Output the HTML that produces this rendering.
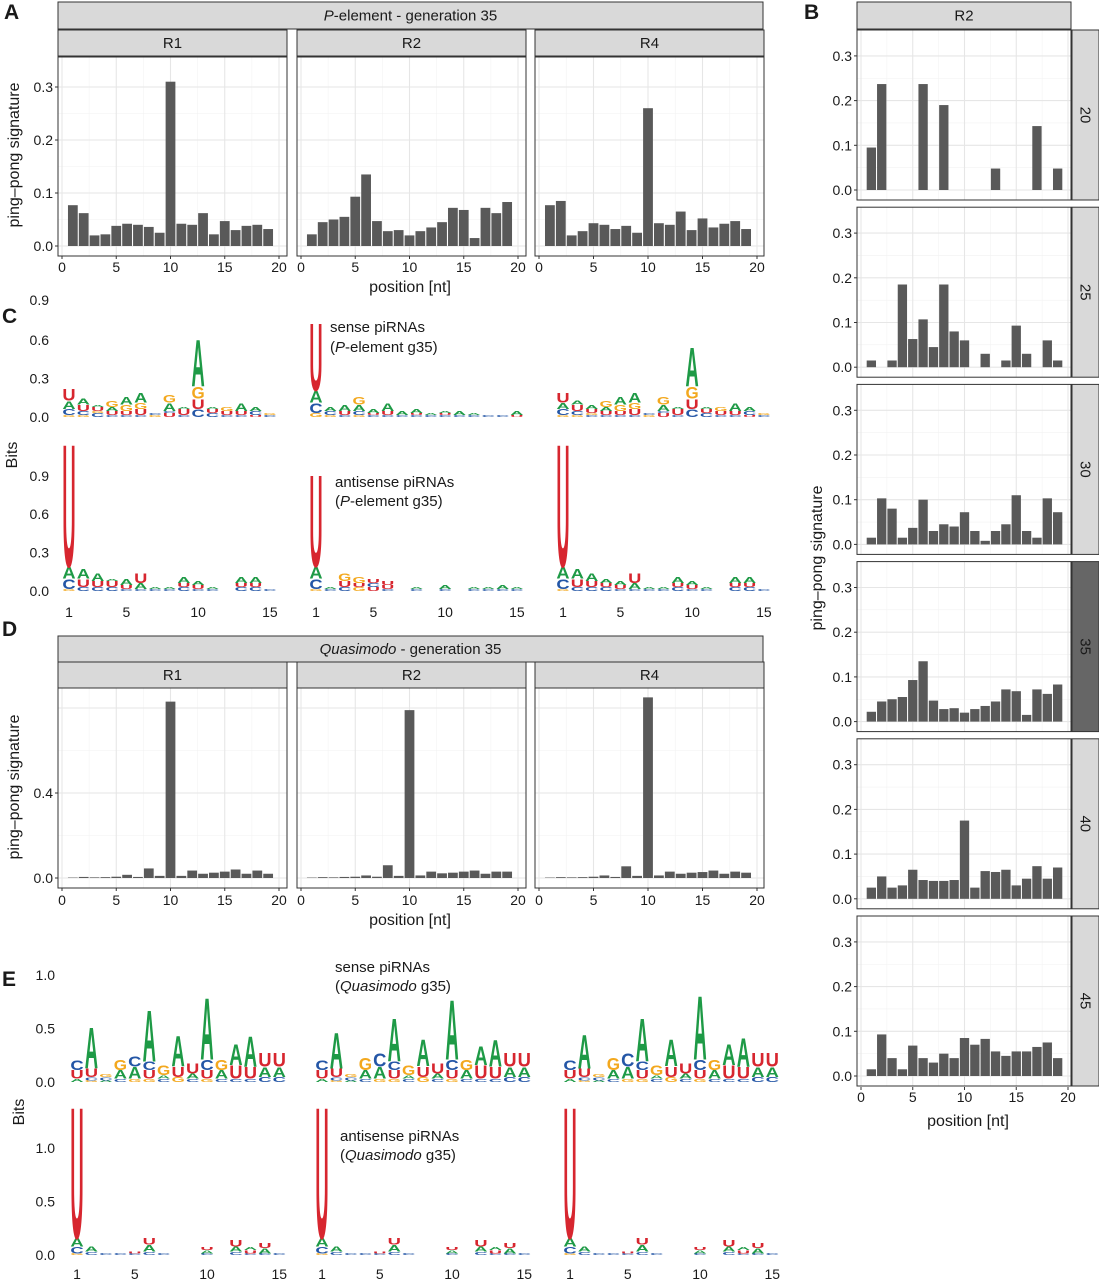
<!DOCTYPE html>
<html><head><meta charset="utf-8"><style>
body{margin:0;background:#fff}
svg text{font-family:"Liberation Sans",sans-serif}
</style></head><body>
<svg id="fig" width="1099" height="1280" viewBox="0 0 1099 1280" xmlns="http://www.w3.org/2000/svg"></svg>
<script>
// ---------- data ----------
const positions=[1,2,3,4,5,6,7,8,9,10,11,12,13,14,15,16,17,18,19];
const pR1=[0.077,0.062,0.020,0.022,0.038,0.042,0.040,0.036,0.025,0.31,0.042,0.040,0.062,0.022,0.047,0.030,0.038,0.040,0.032];
const pR2=[0.022,0.045,0.050,0.055,0.093,0.135,0.047,0.028,0.030,0.020,0.028,0.035,0.045,0.072,0.068,0.015,0.072,0.062,0.083];
const pR4=[0.077,0.085,0.020,0.028,0.043,0.040,0.032,0.038,0.025,0.260,0.043,0.040,0.065,0.030,0.052,0.035,0.042,0.047,0.032];
const g20=[0.095,0.237,0,0,0,0.237,0,0.19,0,0,0,0,0.048,0,0,0,0.143,0,0.048];
const g25=[0.015,0,0.015,0.185,0.063,0.107,0.045,0.185,0.08,0.06,0,0.03,0,0.015,0.093,0.03,0,0.06,0.015];
const g30=[0.015,0.103,0.08,0.015,0.037,0.1,0.03,0.045,0.04,0.072,0.03,0.008,0.03,0.045,0.11,0.03,0.015,0.103,0.072];
const g35=pR2;
const g40=[0.025,0.05,0.025,0.03,0.065,0.042,0.04,0.04,0.042,0.175,0.025,0.062,0.06,0.065,0.03,0.045,0.073,0.045,0.07];
const g45=[0.015,0.093,0.04,0.015,0.068,0.04,0.03,0.05,0.04,0.085,0.07,0.083,0.055,0.045,0.055,0.055,0.065,0.075,0.04];
const generations=["20","25","30","35","40","45"];
const qR1=[0.002,0.005,0.003,0.004,0.006,0.015,0.005,0.045,0.01,0.83,0.01,0.035,0.02,0.025,0.03,0.04,0.02,0.035,0.02];
const qR2=[0.002,0.004,0.003,0.005,0.006,0.012,0.006,0.06,0.01,0.79,0.012,0.03,0.022,0.025,0.03,0.035,0.02,0.03,0.03];
const qR4=[0.002,0.004,0.003,0.004,0.006,0.012,0.005,0.055,0.01,0.85,0.012,0.03,0.02,0.025,0.028,0.035,0.02,0.03,0.025];
// logos: columns bottom->top "Letter:height"
const logoPS1="G.01C.03A.04U.06|G.01C.02U.03A.03|C.02G.01U.02A.01|C.01U.02A.02G.03|C.01U.02G.03A.04|C.01U.03G.03A.05|G.01C.01|U.02C.01A.04G.04|C.01U.03A.01|C.04U.05G.06A.38|C.02U.02A.01|C.01U.02G.02|C.01U.02A.04|U.01C.02A.02|C.01G.01";
const logoPS2="G.02C.05A.06U.55|G.01C.02A.02|C.01U.02A.03|G.01C.02A.03G.04|C.01U.01A.02|C.01U.02A.04|C.01A.02|C.01U.01A.02|C.01A.01|C.01U.01A.01|C.01A.02|C.01A.01|C.01|C.01|U.01A.02";
const logoPS3="G.01C.03A.03U.05|G.01C.02U.03A.02|C.01G.01U.02A.02|C.01U.02A.02G.03|C.01U.02G.03A.04|C.01U.03G.03A.05|G.01C.01|U.02C.01A.03G.04|C.01U.03A.01|C.04U.05G.06A.32|C.02U.02A.01|C.01U.02G.02|C.01U.02A.04|U.01C.02A.02|C.01G.01";
const logoPA1="G.01C.05A.06U1.0|C.02U.04A.05|C.02U.03A.04|C.02U.03A.01|C.01U.02A.03|C.01A.03U.05|C.01A.01|C.01A.01|C.02U.02A.03|C.01U.02A.02|C.01A.01|C.00|C.02U.02A.03|C.02U.02A.03|C.01";
const logoPA2="G.01C.05A.06U.75|C.01A.01|C.02U.03G.04|G.02U.02G.03|U.02C.02U.02|C.01U.02U.02|C.00|C.01A.01|C.00|C.01A.02|C.00|C.01A.01|C.01A.01|C.01A.02|C.01A.01";
const logoPA3="G.01C.05A.06U1.0|C.02U.04A.05|C.02U.03A.04|C.02U.02A.02|C.01U.02A.02|C.01A.03U.05|C.01A.01|C.01A.01|C.02U.02A.03|C.01U.02A.02|C.01A.01|C.00|C.02U.02A.03|C.02U.02A.03|C.01";
const logoQS1="A.02U.05C.06|G.01C.02U.05A.4|A.01C.02G.02|C.02A.05G.1|G.02A.07C.1|G.02U.05C.05A.5|C.02A.02G.06|G.03U.1A.3|C.02A.03U.1|G.02U.05C.1A.6|C.02A.05G.1|C.02U.08A.2|C.02U.07A.3|C.03A.06U.13|C.03A.06U.13";
const logoQS2="A.02U.05C.06|G.01C.02U.05A.35|A.01C.02G.02|C.02A.05G.12|G.02A.07C.08|G.02U.05C.05A.42|C.02A.02G.06|G.03U.1A.26|C.02A.03U.1|G.02U.05C.1A.58|C.02A.05G.1|C.02U.08A.18|C.02U.07A.26|C.03A.06U.13|C.03A.06U.13";
const logoQS3="A.02U.05C.06|G.01C.02U.05A.33|A.01C.02G.02|C.02A.05G.12|G.02A.07C.08|G.02U.05C.05A.42|C.02A.02G.06|G.03U.1A.26|C.02A.03U.1|G.02U.05C.1A.62|C.02A.05G.1|C.02U.08A.2|C.02U.07A.28|C.03A.06U.13|C.03A.06U.13";
const logoQA1="G.01C.04A.05U1.28|C.02A.03|C.01|C.01|C.01U.01|C.02A.04U.04|C.01|||C.01A.02U.02|C.00|C.02A.03U.04|C.01U.02A.02|C.01A.03U.03|C.01";
const logoQA2="G.01C.04A.05U1.28|C.02A.03|C.01|C.01|C.01U.01|C.02A.04U.04|C.01|||C.01A.02U.02|C.00|C.02A.03U.04|C.01U.02A.02|C.01A.03U.03|C.01";
const logoQA3=logoQA2;

// ---------- helpers ----------
const svg=document.getElementById('fig');
const NS="http://www.w3.org/2000/svg";
function mk(tag,attrs,parent){const e=document.createElementNS(NS,tag);for(const k in attrs)e.setAttribute(k,attrs[k]);(parent||svg).appendChild(e);return e;}
function txt(s,x,y,size,anchor,parent,extra){const t=mk('text',Object.assign({x:x,y:y,'font-size':size,'text-anchor':anchor||'start',fill:'#1a1a1a'},extra||{}),parent);t.textContent=s;return t;}
function strip(x,y,w,h,label,name,dark,rot){
  const g=mk('g',{});
  
  
  mk('rect',{x:x,y:y,width:w,height:h,fill:dark?'#666':'#d9d9d9',stroke:'#333','stroke-width':1},g);
  if(rot){txt(label,0,0,15,'middle',g,{transform:`translate(${x+w/2-5},${y+h/2}) rotate(90)`});}
  else{const t=txt('',x+w/2,y+h/2+5,15,'middle',g);t.innerHTML=label;}
  return g;
}
function barPanel(name,x,y,w,h,x0px,x20px,zeroY,pxPerUnit,yTicks,yMinor,vals,showY,tickFmt){
  const g=mk('g',{});
  
  
  mk('rect',{x:x,y:y,width:w,height:h,fill:'#fff'},g);
  const sx=v=>x0px+(x20px-x0px)*v/20, sy=v=>zeroY-v*pxPerUnit;
  [2.5,7.5,12.5,17.5].forEach(v=>mk('line',{x1:sx(v),x2:sx(v),y1:y,y2:y+h,stroke:'#f2f2f2','stroke-width':0.6},g));
  yMinor.forEach(v=>mk('line',{x1:x,x2:x+w,y1:sy(v),y2:sy(v),stroke:'#f2f2f2','stroke-width':0.6},g));
  [0,5,10,15,20].forEach(v=>mk('line',{x1:sx(v),x2:sx(v),y1:y,y2:y+h,stroke:'#e6e6e6','stroke-width':1.1},g));
  yTicks.forEach(v=>mk('line',{x1:x,x2:x+w,y1:sy(v),y2:sy(v),stroke:'#e6e6e6','stroke-width':1.1},g));
  const bw=(x20px-x0px)/20*0.9;
  vals.forEach((v,i)=>{ if(v<=0)return;
    const r=mk('rect',{x:sx(positions[i])-bw/2,y:sy(v),width:bw,height:v*pxPerUnit,fill:'#595959'},g);
    
    
  });
  mk('rect',{x:x,y:y,width:w,height:h,fill:'none',stroke:'#333','stroke-width':1},g);
  if(showY){yTicks.forEach(v=>{mk('line',{x1:x-3,x2:x,y1:sy(v),y2:sy(v),stroke:'#333'},g);txt(tickFmt(v),x-5,sy(v)+5,14,'end',g);});}
  return {g,sx,sy};
}
function xTicks(sx,yb,yl,g){[0,5,10,15,20].forEach(v=>{mk('line',{x1:sx(v),x2:sx(v),y1:yb,y2:yb+3,stroke:'#333'},g||svg);txt(String(v),sx(v),yl,14,'middle',g);});}
const COL={A:'#1e9a46',C:'#2456a6',G:'#f3a81e',U:'#d7262f'};
function logo(name,str,x1,step,zeroY,pxPerBit){
  const g=mk('g',{});
  
  
  str.split('|').forEach((col,i)=>{
    const cx=x1+i*step, w=step*0.92;
    let base=zeroY;
    const re=/([ACGU])([0-9.]+)/g;let m;
    while((m=re.exec(col))){
      let v=parseFloat(m[2]); if(v<0.1) v*=1.6;
      const hgt=v*pxPerBit; if(hgt<0.3){continue;}
      const t=mk('text',{x:0,y:0,'font-size':10,'font-weight':'bold',fill:COL[m[1]],textLength:w,lengthAdjust:'spacingAndGlyphs',
        transform:`translate(${cx-w/2},${base}) scale(1,${hgt/7.3})`},g);
      t.textContent=m[1];
      base-=hgt;
    }
  });
  return g;
}
function ylab(s,x,y,size){return txt(s,0,0,size||16,'middle',svg,{transform:`translate(${x},${y}) rotate(-90)`});}

// ---------- Panel A ----------
let t=txt('A',4,19,21,'start',svg,{'font-weight':'bold'});
strip(58,2,705,27,'<tspan font-style="italic">P</tspan>-element - generation 35','strip-pelement-title');
const aX=[[58,62,279,'R1',pR1],[297,301,518,'R2',pR2],[535,539,757,'R4',pR4]];
aX.forEach(([x,x0,x20,lab,vals],k)=>{
  strip(x,30,229,26,lab,'strip-a-'+lab.toLowerCase());
  const p=barPanel('panel-a-'+lab.toLowerCase(),x,57,229,199,x0,x20,246,530,[0,0.1,0.2,0.3],[0.05,0.15,0.25],vals,k===0,v=>v.toFixed(1));
  xTicks(p.sx,256,272,p.g);
});
t=txt('position [nt]',410,292,16,'middle');
t=ylab('ping\u2013pong signature',19,155);

// ---------- Panel B ----------
t=txt('B',804,19,21,'start',svg,{'font-weight':'bold'});
strip(857,2,214,27,'R2','strip-b-r2');
const bVals=[g20,g25,g30,g35,g40,g45];
let lastB;
generations.forEach((gen,k)=>{
  const y=30+k*177.2;
  lastB=barPanel('panel-b-gen-'+gen,857,y,214,170,861,1068,y+160,447,[0,0.1,0.2,0.3],[0.05,0.15,0.25],bVals[k],true,v=>v.toFixed(1));
  strip(1072,y,27,170,gen,'strip-gen-'+gen,gen==='35',true);
});
xTicks(lastB.sx,1087,1102);
t=txt('position [nt]',968,1126,16,'middle');
t=ylab('ping\u2013pong signature',822,558);

// ---------- Panel C ----------
t=txt('C',2,323,21,'start',svg,{'font-weight':'bold'});
[[417,['0.0',0],['0.3',0.3],['0.6',0.6]],[591,['0.0',0],['0.3',0.3],['0.6',0.6],['0.9',0.9]]].forEach(r=>{
  const z=r[0];r.slice(1).forEach(([l,v])=>txt(l,49,z-v*128+5,14,'end'));});
txt('0.9',49,305,14,'end');
t=ylab('Bits',17,455);
const cStarts=[69,316,563], cStep=14.35;
[logoPS1,logoPS2,logoPS3].forEach((s,i)=>logo('logo-pelement-sense-'+(i+1),s,cStarts[i],cStep,417,128));
[logoPA1,logoPA2,logoPA3].forEach((s,i)=>logo('logo-pelement-antisense-'+(i+1),s,cStarts[i],cStep,591,128));
cStarts.forEach(x=>[1,5,10,15].forEach(v=>txt(String(v),x+(v-1)*cStep,617,14,'middle')));
t=txt('sense piRNAs',330,332,15,'start');
t=txt('',330,352,15,'start');t.innerHTML='(<tspan font-style="italic">P</tspan>-element  g35)';
t=txt('antisense piRNAs',335,487,15,'start');
t=txt('',335,506,15,'start');t.innerHTML='(<tspan font-style="italic">P</tspan>-element  g35)';

// ---------- Panel D ----------
t=txt('D',2,636,21,'start',svg,{'font-weight':'bold'});
strip(58,636,705,26,'<tspan font-style="italic">Quasimodo</tspan> - generation 35','strip-quasimodo-title');
const dX=[[58,62,279,'R1',qR1],[297,301,518,'R2',qR2],[535,539,757,'R4',qR4]];
dX.forEach(([x,x0,x20,lab,vals],k)=>{
  strip(x,662,229,26,lab,'strip-d-'+lab.toLowerCase());
  const p=barPanel('panel-d-'+lab.toLowerCase(),x,688,229,200,x0,x20,878,212.5,[0,0.4,0.8],[0.2,0.6],vals,false,v=>v.toFixed(1));
  if(k===0){[0,0.4].forEach(v=>{mk('line',{x1:x-3,x2:x,y1:p.sy(v),y2:p.sy(v),stroke:'#333'});txt(v.toFixed(1),x-5,p.sy(v)+5,14,'end');});}
  xTicks(p.sx,888,905,p.g);
});
t=txt('position [nt]',410,925,16,'middle');
t=ylab('ping\u2013pong signature',19,787);

// ---------- Panel E ----------
t=txt('E',2,986,21,'start',svg,{'font-weight':'bold'});
[[1082,['0.0',0],['0.5',0.5],['1.0',1]],[1255,['0.0',0],['0.5',0.5],['1.0',1]]].forEach(r=>{
  const z=r[0];r.slice(1).forEach(([l,v])=>txt(l,55,z-v*107+5,14,'end'));});
t=ylab('Bits',24,1112);
const eStarts=[77,322,570], eStep=14.45;
[logoQS1,logoQS2,logoQS3].forEach((s,i)=>logo('logo-quasimodo-sense-'+(i+1),s,eStarts[i],eStep,1082,107));
[logoQA1,logoQA2,logoQA3].forEach((s,i)=>logo('logo-quasimodo-antisense-'+(i+1),s,eStarts[i],eStep,1255,107));
eStarts.forEach(x=>[1,5,10,15].forEach(v=>txt(String(v),x+(v-1)*eStep,1279,14,'middle')));
t=txt('sense piRNAs',335,972,15,'start');
t=txt('',335,991,15,'start');t.innerHTML='(<tspan font-style="italic">Quasimodo</tspan>  g35)';
t=txt('antisense piRNAs',340,1141,15,'start');
t=txt('',340,1160,15,'start');t.innerHTML='(<tspan font-style="italic">Quasimodo</tspan>  g35)';
</script>
</body></html>
